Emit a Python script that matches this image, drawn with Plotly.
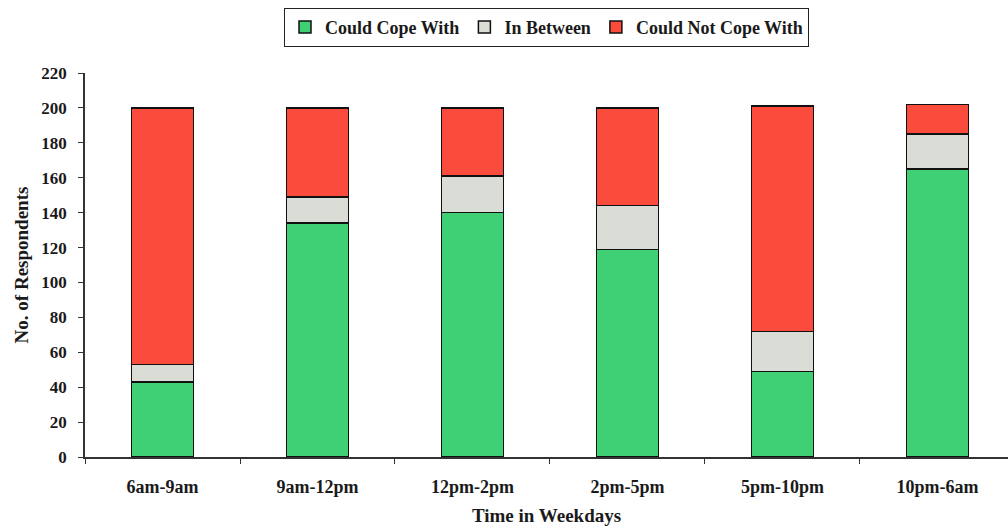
import plotly.graph_objects as go

# Time slots on weekdays
categories = ["6am-9am", "9am-12pm", "12pm-2pm", "2pm-5pm", "5pm-10pm", "10pm-6am"]

# Respondent counts per coping level
could_cope = [43, 134, 140, 119, 49, 165]
in_between = [10, 15, 21, 25, 23, 20]
could_not_cope = [147, 51, 39, 56, 129, 17]

y_ticks = [0, 20, 40, 60, 80, 100, 120, 140, 160, 180, 200, 220]

series = [
    ("Could Cope With", could_cope, "#3fcf75"),
    ("In Between", in_between, "#d9ddd5"),
    ("Could Not Cope With", could_not_cope, "#fa4b3c"),
]

font_family = "Liberation Serif, Times New Roman, serif"

fig = go.Figure()
for name, vals, color in series:
    fig.add_trace(go.Bar(
        x=categories, y=vals, name=name, width=0.4,
        marker=dict(color=color, line=dict(color="#111111", width=1.5)),
    ))

fig.update_layout(
    barmode="stack",
    width=1008, height=530,
    margin=dict(l=85, r=0, t=73, b=73),
    paper_bgcolor="white", plot_bgcolor="white",
    font=dict(family=font_family, size=17, color="#1a1a1a"),
    showlegend=True,
    legend=dict(
        orientation="h", x=0.5, xanchor="center", y=1.17, yanchor="top",
        bordercolor="#222222", borderwidth=1,
        font=dict(family=font_family, size=18, color="#1a1a1a", weight="bold"),
        traceorder="normal", itemwidth=30,
    ),
    xaxis=dict(
        range=[-0.5, 5.455],
        showline=True, linecolor="#333333", linewidth=1.5,
        ticks="outside", tickson="boundaries", ticklen=5, tickcolor="#333333",
        tickfont=dict(family=font_family, size=18, weight="bold"),
        ticklabelstandoff=13,
        title=dict(text="Time in Weekdays", standoff=12,
                   font=dict(family=font_family, size=19, weight="bold")),
        showgrid=False,
    ),
    yaxis=dict(
        range=[0, 220], tickvals=y_ticks,
        showline=True, linecolor="#333333", linewidth=1.5,
        ticks="outside", ticklen=5, tickcolor="#333333",
        tickfont=dict(family=font_family, size=17, weight="bold"),
        ticklabelstandoff=8,
        title=dict(text="No. of Respondents", standoff=8,
                   font=dict(family=font_family, size=19, weight="bold")),
        showgrid=False, zeroline=False,
    ),
)

fig.write_html("out.html")
